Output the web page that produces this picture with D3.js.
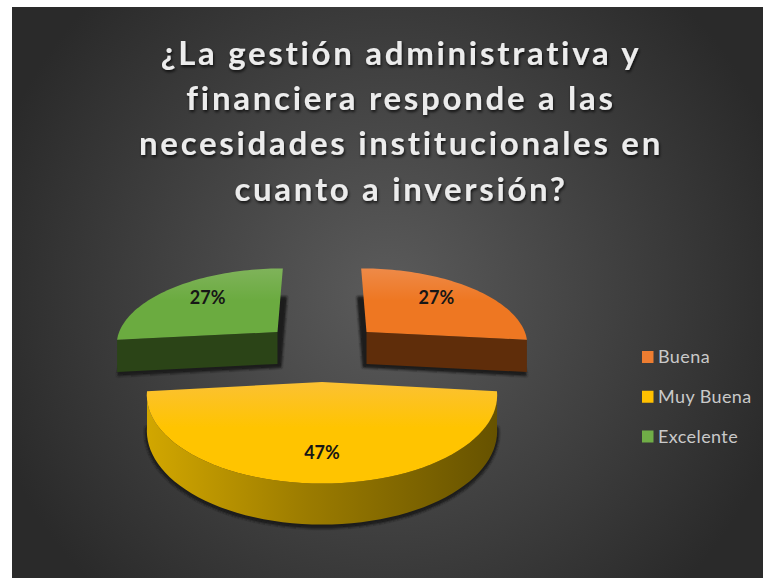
<!DOCTYPE html>
<html>
<head>
<meta charset="utf-8">
<script src="https://cdn.jsdelivr.net/npm/d3@7"></script>
<style>
html, body { margin: 0; padding: 0; background: #fff; }
svg { display: block; font-family: Lato, "Open Sans", sans-serif; }
</style>
</head>
<body>
<svg id="chart" width="763" height="578"></svg>
<script>
var categories = ["Buena", "Muy Buena", "Excelente"];
var values = [4, 7, 4];
var titleLines = [
  "¿La gestión administrativa y",
  "financiera responde a las",
  "necesidades institucionales en",
  "cuanto a inversión?"
];
var legendColors = ["#ED7D31", "#FFC000", "#70AD47"];
var topColors = ["#EE7722", "#FFC400", "#6BAB40"];
var topLight = ["#EE8A48", "#FBC133", "#7FB35A"];
var wallColors = ["#5F2D0A", "#A88400", "#2B4417"];

var svg = d3.select("#chart");
var defs = svg.append("defs");

// background
var bg = defs.append("radialGradient").attr("id", "bg")
  .attr("gradientUnits", "userSpaceOnUse")
  .attr("cx", 387).attr("cy", 293).attr("r", 415);
bg.append("stop").attr("offset", "0%").attr("stop-color", "#5b5b5b");
bg.append("stop").attr("offset", "100%").attr("stop-color", "#2a2a2a");

svg.append("rect")
  .attr("x", 12).attr("y", 7)
  .attr("width", 751).attr("height", 571)
  .attr("fill", "url(#bg)");

defs.append("filter").attr("id", "blur").append("feGaussianBlur").attr("stdDeviation", 1.2);
var ts = defs.append("filter").attr("id", "textShadow")
  .attr("x", "-5%").attr("y", "-20%").attr("width", "110%").attr("height", "140%");
ts.append("feDropShadow").attr("dx", 1).attr("dy", 2).attr("stdDeviation", 1.5)
  .attr("flood-color", "#000").attr("flood-opacity", 0.75);

// title
svg.append("g").attr("filter", "url(#textShadow)")
  .selectAll("text").data(titleLines).enter().append("text")
  .attr("x", 401)
  .attr("y", function(d, i) { return 65 + i * 45.2; })
  .attr("text-anchor", "middle")
  .attr("font-size", 33)
  .attr("font-weight", 700)
  .attr("letter-spacing", 2.7)
  .attr("fill", "#ececec")
  .text(function(d) { return d; });

// pie, laid flat on a plane and seen in perspective
var R = 164, explode = 62, camDist = 1165, camHeight = 551, horizon = -200, thick = 33, cx = 322;

var pie = d3.pie().sort(null).value(function(d) { return d; });
var slices = pie(values);

function project(u, v, z) {
  var s = camDist / (camDist + v);
  return [cx + u * s, horizon + (camHeight + z) * s];
}

var path = d3.line();

function rimPoint(d, a, r, z) {
  var mid = (d.startAngle + d.endAngle) / 2;
  return project(explode * Math.sin(mid) + r * Math.sin(a),
                 explode * Math.cos(mid) + r * Math.cos(a), z);
}

function arcPoints(d, z, from, to) {
  return d3.range(0, 61).map(function(i) {
    return rimPoint(d, from + (to - from) * i / 60, R, z);
  });
}

function gradient(id, x1, x2, y1, y2, stops) {
  var g = defs.append("linearGradient").attr("id", id)
    .attr("x1", x1).attr("x2", x2).attr("y1", y1).attr("y2", y2);
  stops.forEach(function(s) {
    g.append("stop").attr("offset", s[0]).attr("stop-color", s[1]);
  });
}

gradient("wallYellow", 0, 1, 0, 0, [[0, "#D2A700"], [0.45, "#9C7C00"], [1, "#665200"]]);
slices.forEach(function(d, i) {
  gradient("top" + i, 0, 0, 0, 1, [[0, topLight[i]], [0.45, topColors[i]], [1, topColors[i]]]);
});

// back slices first, the front one overlaps them
var order = [0, 2, 1];
order.forEach(function(i) {
  var d = slices[i];
  var mid = (d.startAngle + d.endAngle) / 2;
  var g = svg.append("g").attr("class", "slice");
  var centerTop = rimPoint(d, 0, 0, 0), centerLow = rimPoint(d, 0, 0, thick);
  var topRim = arcPoints(d, 0, d.startAngle, d.endAngle);
  var lowRim = arcPoints(d, thick, d.startAngle, d.endAngle);

  // shadow of the base, pushed toward the middle of the pie
  g.append("path")
    .attr("d", path([centerLow].concat(lowRim)) + "Z")
    .attr("transform", "translate(" + (-3 * Math.sin(mid)) + ",2)")
    .attr("fill", "#1b1b1b")
    .attr("stroke", "#1b1b1b")
    .attr("stroke-width", 4)
    .attr("filter", "url(#blur)");

  if (i === 1) {
    // round front wall
    g.append("path")
      .attr("d", path(topRim.concat(lowRim.slice().reverse())) + "Z")
      .attr("fill", "url(#wallYellow)");
  } else {
    // only the cut wall facing the viewer
    var a = Math.cos(d.startAngle) < Math.cos(d.endAngle) ? d.startAngle : d.endAngle;
    g.append("path")
      .attr("d", path([centerTop, rimPoint(d, a, R, 0), rimPoint(d, a, R, thick), centerLow]) + "Z")
      .attr("fill", wallColors[i]);
  }

  g.append("path")
    .attr("d", path([centerTop].concat(topRim)) + "Z")
    .attr("fill", "url(#top" + i + ")");

  // label sits on the top face
  var ku = 0.66, kv = i === 1 ? 0.73 : 0.75;
  var lab = project(
    explode * Math.sin(mid) + R * ku * Math.sin(mid),
    explode * Math.cos(mid) + R * kv * Math.cos(mid), 0);
  g.append("text")
    .attr("x", lab[0]).attr("y", lab[1] + 6)
    .attr("text-anchor", "middle")
    .attr("font-size", 18)
    .attr("font-weight", 700)
    .attr("fill", "#161616")
    .text(d3.format(".0%")(d.value / d3.sum(values)));
});

// legend
var legendY = d3.scalePoint().domain(categories).range([357, 436.5]);
var legend = svg.append("g").selectAll("g").data(categories).enter().append("g")
  .attr("transform", function(d) { return "translate(642," + legendY(d) + ")"; });
legend.append("rect")
  .attr("x", 0).attr("y", -6)
  .attr("width", 11.5).attr("height", 12)
  .attr("fill", function(d, i) { return legendColors[i]; });
legend.append("text")
  .attr("x", 16).attr("y", 6)
  .attr("font-size", 18)
  .attr("letter-spacing", 0.4)
  .attr("fill", "#c9c9c9")
  .text(function(d) { return d; });
</script>
</body>
</html>
